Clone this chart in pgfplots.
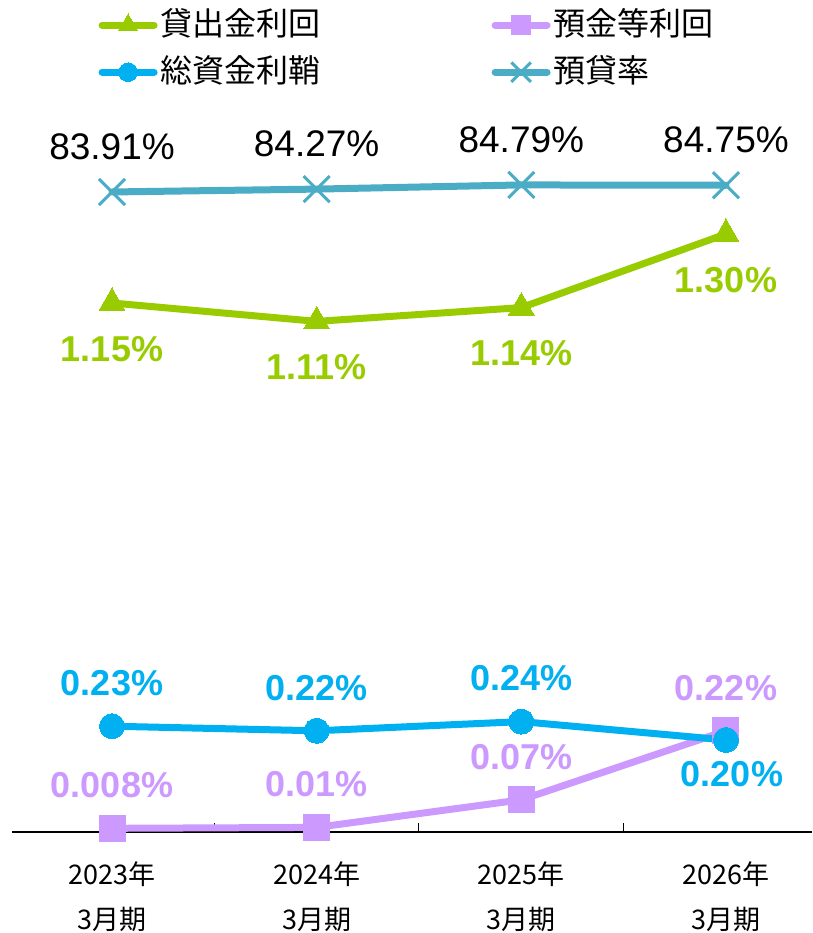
\documentclass[border=0pt]{standalone}
\usepackage{pgfplots}
\pgfplotsset{compat=1.18}
\usepackage{fontspec}
\setmainfont{Liberation Sans}
\newfontfamily\jp{Noto Sans CJK JP}
\definecolor{cgreen}{RGB}{153,204,0}
\definecolor{cpurple}{RGB}{204,153,255}
\definecolor{cblue}{RGB}{0,176,240}
\definecolor{cteal}{RGB}{75,172,198}

\pgfplotsset{
  base/.style={width=800pt, height=832pt, scale only axis,
    at={(12pt,101pt)}, anchor=south west,
    xmin=-0.4886, xmax=3.4203, clip=false},
  ser/.style={line width=7pt, line cap=round, line join=round},
  lab/.style={draw=none, mark=none, forget plot, nodes near coords,
    point meta=explicit symbolic,
    every node near coord/.append style={anchor=center, inner sep=0pt,
      font=\bfseries\fontsize{36}{36}\selectfont, text=#1}},
}

\begin{document}
\begin{tikzpicture}
% rates (%)
\begin{axis}[base, ymin=0, ymax=1.8087,
    axis x line=bottom, axis y line=none,
    x axis line style={-, line width=1.3pt, black},
    xtick={0,1,2,3},
    xticklabels={{2023年\\3月期},{2024年\\3月期},{2025年\\3月期},{2026年\\3月期}},
    xticklabel style={font=\jp\fontsize{27}{45}\selectfont, align=center, yshift=-26pt},
    major tick length=0pt,
    minor xtick={0.5,1.5,2.5}, minor tick length=9pt, tick align=inside,
    minor tick style={black, line width=1pt},
    ytick=\empty]
\addplot[ser, cpurple, mark=square*, mark size=13pt, mark options={line width=0pt}]
  coordinates {(0,0.008) (1,0.01) (2,0.07) (3,0.22)};
\addplot[ser, cblue, mark=*, mark size=12.5pt, mark options={line width=0pt}]
  coordinates {(0,0.23) (1,0.22) (2,0.24) (3,0.20)};
\addplot[ser, cgreen, mark=triangle*, mark size=15pt, mark options={line width=0pt}]
  coordinates {(0,1.15) (1,1.11) (2,1.14) (3,1.30)};
% labels
\addplot[lab=cpurple, every node near coord/.append style={yshift=43pt}]
  coordinates {(0,0.008)[0.008\%] (1,0.01)[0.01\%] (2,0.07)[0.07\%] (3,0.22)[0.22\%]};
\addplot[lab=cblue, every node near coord/.append style={yshift=43pt}]
  coordinates {(0,0.23)[0.23\%] (1,0.22)[0.22\%] (2,0.24)[0.24\%]};
\addplot[lab=cblue, every node near coord/.append style={yshift=-34pt, xshift=6pt}]
  coordinates {(3,0.20)[0.20\%]};
\addplot[lab=cgreen, every node near coord/.append style={yshift=-46pt}]
  coordinates {(0,1.15)[1.15\%] (1,1.11)[1.11\%] (2,1.14)[1.14\%] (3,1.30)[1.30\%]};
\end{axis}
% loan-to-deposit ratio (%)
\begin{axis}[base, ymin=3.91, ymax=107.91, axis lines=none,
    legend columns=2,
    legend cell align=left,
    legend image code/.code={\draw[mark repeat=2, mark phase=2,
        every mark/.append style={scale=0.75}]
        plot coordinates {(0pt,0pt) (26pt,0pt) (52pt,0pt)};},
    legend style={draw=none, fill=none, inner sep=0pt,
      at={(axis description cs:0.108,1)}, anchor=north west, yshift=-9pt,
      font=\jp\fontsize{32}{32}\selectfont,
      nodes={inner ysep=0pt, inner xsep=3pt, text height=26pt, text depth=6pt},
      /tikz/row sep=15pt,
      /tikz/column 2/.style={column sep=168pt}}]
\addlegendimage{ser, cgreen, mark=triangle*, mark size=15pt, mark options={line width=0pt}}
\addlegendentry{貸出金利回}
\addlegendimage{ser, cpurple, mark=square*, mark size=13pt, mark options={line width=0pt}}
\addlegendentry{預金等利回}
\addlegendimage{ser, cblue, mark=*, mark size=12.5pt, mark options={line width=0pt}}
\addlegendentry{総資金利鞘}
\addplot[ser, cteal, mark=x, mark size=18.4pt, mark options={line width=3pt, line cap=butt}]
  coordinates {(0,83.91) (1,84.27) (2,84.79) (3,84.75)};
\addlegendentry{預貸率}
\addplot[draw=none, mark=none, forget plot, nodes near coords,
    point meta=explicit symbolic,
    every node near coord/.append style={anchor=center, inner sep=0pt,
      font=\fontsize{37}{37}\selectfont, text=black, yshift=45pt}]
  coordinates {(0,83.91)[83.91\%] (1,84.27)[84.27\%] (2,84.79)[84.79\%] (3,84.75)[84.75\%]};
\end{axis}
\pgfresetboundingbox
\useasboundingbox (0,0) rectangle (812pt,933pt);
\end{tikzpicture}
\end{document}
